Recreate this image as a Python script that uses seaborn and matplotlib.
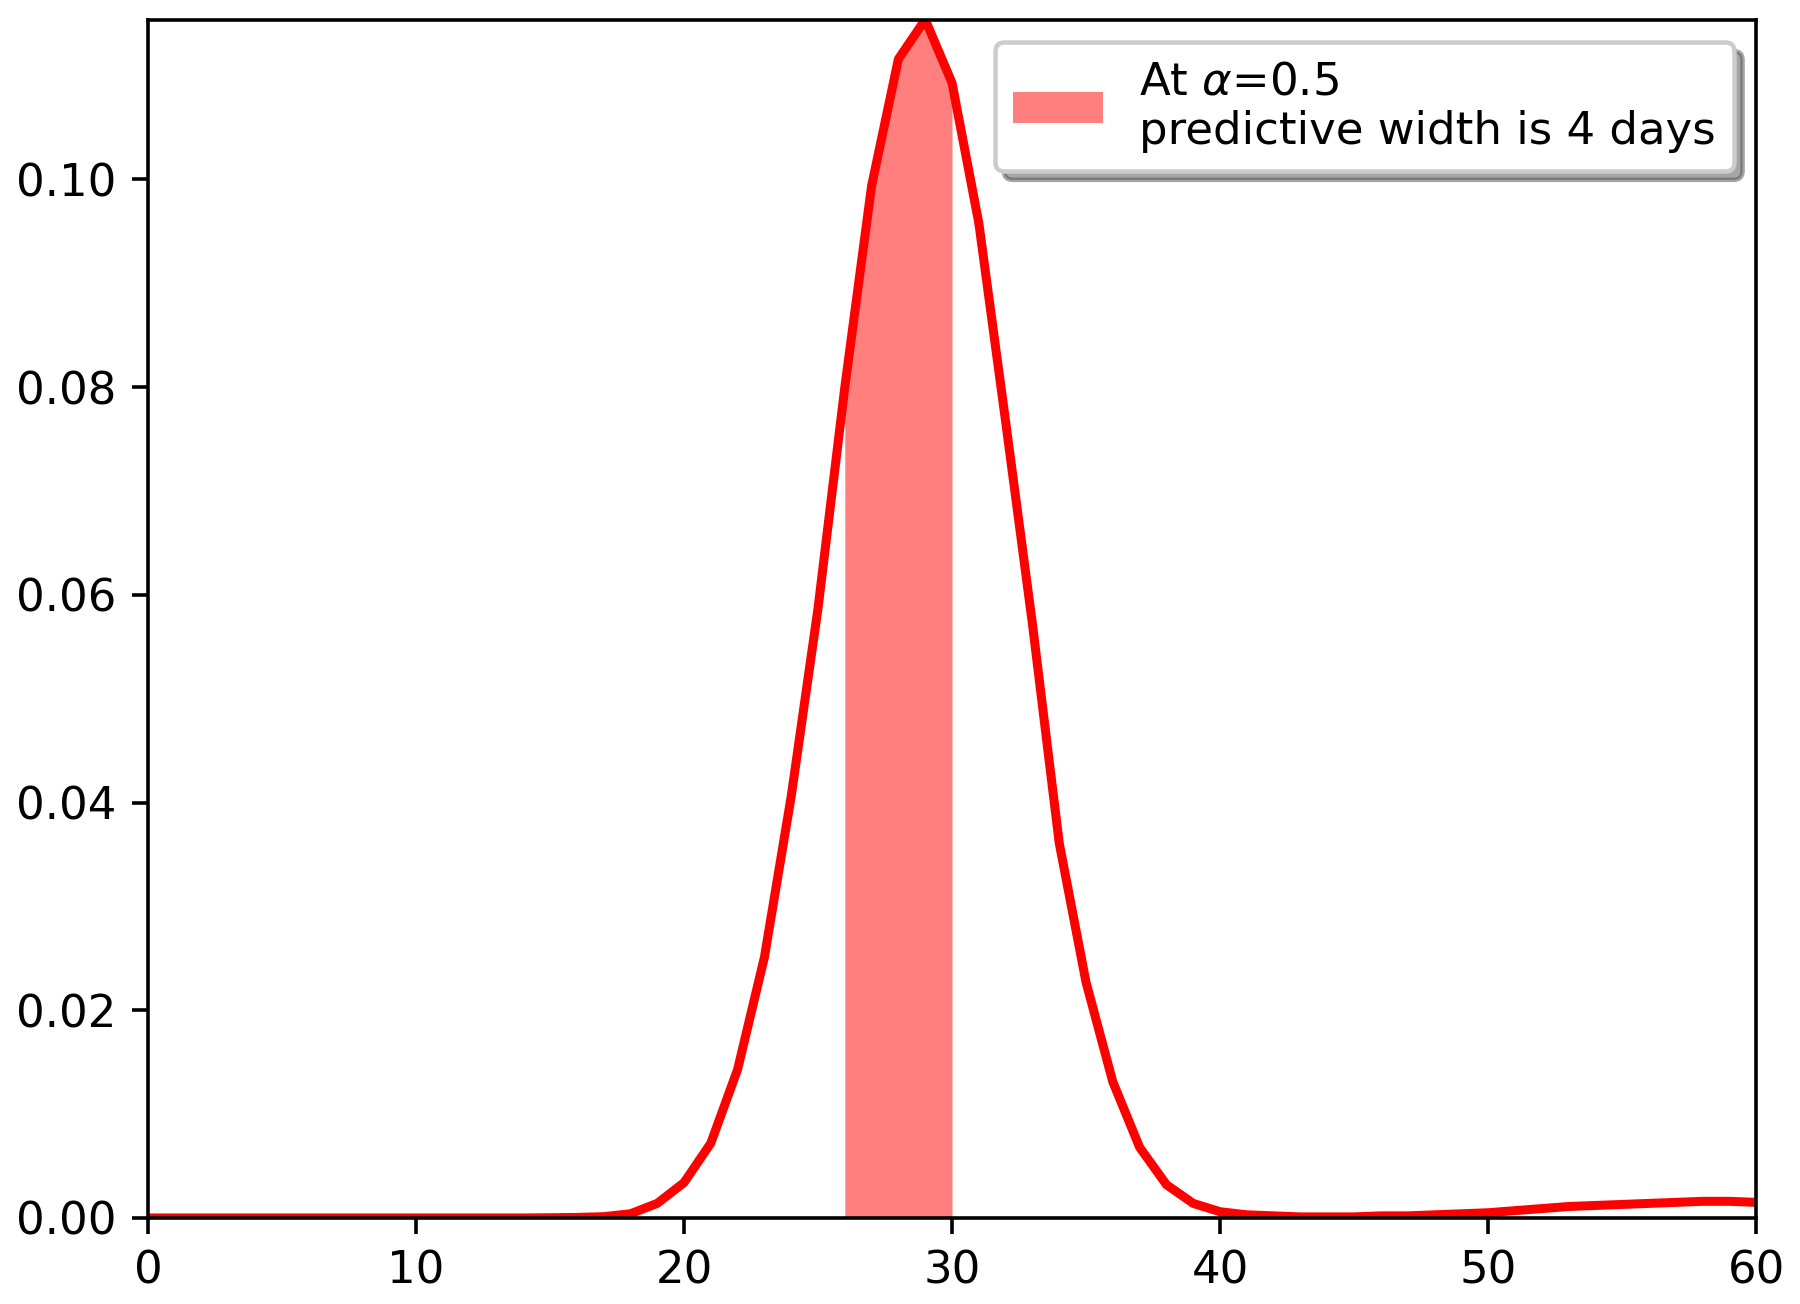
import matplotlib

matplotlib.use("Agg")
import matplotlib.pyplot as plt
import numpy as np
import pandas as pd
import seaborn as sns

# posterior predictive density, one value per day
days = list(range(0, 61))
density = [
    0.0, 0.0, 0.0, 0.0, 0.0, 0.0, 0.0, 0.0, 0.0, 0.0,
    0.0, 0.0, 0.0, 0.0, 0.0, 0.00002, 0.00005, 0.00012, 0.0004, 0.0014,
    0.0034, 0.0072, 0.0143, 0.0251, 0.0406, 0.0587, 0.0800, 0.0994, 0.1116, 0.1154,
    0.1093, 0.0958, 0.0767, 0.0572, 0.0361, 0.0227, 0.0131, 0.0068, 0.0032, 0.0014,
    0.0006, 0.0003, 0.0002, 0.0001, 0.0001, 0.0001, 0.0002, 0.0002, 0.0003, 0.0004,
    0.0005, 0.0007, 0.0009, 0.0011, 0.0012, 0.0013, 0.0014, 0.0015, 0.0016, 0.0016,
    0.0015,
]
interval_lo = 26
interval_hi = 30
band_label = "At $\\alpha$=0.5\npredictive width is 4 days"

df = pd.DataFrame({"day": days, "density": density})
band = df[(df["day"] >= interval_lo) & (df["day"] <= interval_hi)]

plt.rcParams["font.size"] = 10

fig = plt.figure(figsize=(1800 / 324, 1304 / 324), dpi=324)
ax = fig.add_axes([0.0822, 0.066, 0.8934, 0.919])

sns.lineplot(data=df, x="day", y="density", color="red", linewidth=2, ax=ax)
ax.fill_between(band["day"], band["density"], color="red", alpha=0.5,
                linewidth=0, label=band_label)

ax.set_xlim(0, 60)
ax.set_ylim(0, max(density))
ax.set_xlabel("")
ax.set_ylabel("")
ax.legend(loc="upper right", shadow=True, fancybox=True)

fig.savefig("out.png", dpi=324)
plt.close(fig)
